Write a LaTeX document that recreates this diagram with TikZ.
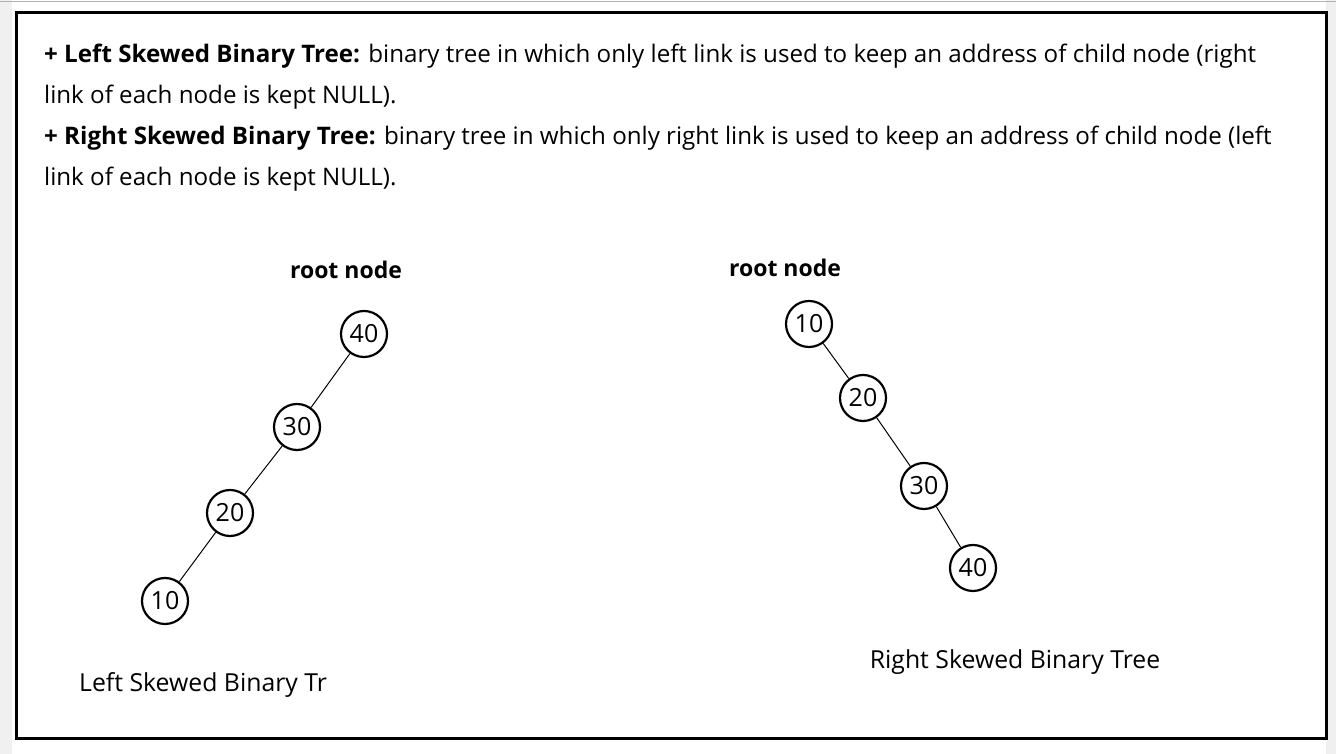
\documentclass[tikz,border=0pt]{standalone}
\usepackage{fontspec}
\setmainfont{Open Sans}
\begin{document}
\begin{tikzpicture}[x=1pt,y=1pt,
  txt/.style={anchor=base west,inner sep=0pt,font=\fontsize{24.15}{28}\selectfont},
  lbl/.style={inner sep=0pt,font=\fontsize{23}{28}\selectfont\bfseries},
  captxt/.style={inner sep=0pt,font=\fontsize{24.8}{28}\selectfont},
  tn/.style={circle,draw,line width=2.2pt,minimum size=46pt,inner sep=0pt,font=\fontsize{25}{28}\selectfont},
  ed/.style={line width=1pt}]
\useasboundingbox (0,0) rectangle (1336,754);
\fill[white] (0,0) rectangle (1336,754);
\fill[gray!12] (0,0) rectangle (12,754);
\fill[gray!12] (1326,0) rectangle (1336,754);
\draw[gray!60,line width=1pt] (0,752.5) -- (1336,752.5);
\draw[line width=3pt] (16,15) rectangle (1326,741);
% description text
\node[txt] (t1) at (44,691) {\textbf{+ Left Skewed Binary Tree:} binary tree in which only left link is used to keep an address of child node (right};
\node[txt] (t2) at (44,650) {link of each node is kept NULL).};
\node[txt] (t3) at (44,609) {\textbf{+ Right Skewed Binary Tree:} binary tree in which only right link is used to keep an address of child node (left};
\node[txt] (t4) at (44,568) {link of each node is kept NULL).};
% left tree
\node[lbl] (rl) at (346,484) {root node};
\node[tn] (l40) at (364,420) {40};
\node[tn] (l30) at (297,327) {30};
\node[tn] (l20) at (230,241) {20};
\node[tn] (l10) at (165,153) {10};
\draw[ed] (l40) -- (l30);
\draw[ed] (l30) -- (l20);
\draw[ed] (l20) -- (l10);
\node[captxt,anchor=west] (cl) at (79,69) {Left Skewed Binary Tr};
% right tree
\node[lbl] (rr) at (785,486) {root node};
\node[tn] (r10) at (809,430) {10};
\node[tn] (r20) at (863,356) {20};
\node[tn] (r30) at (924,268) {30};
\node[tn] (r40) at (973,186) {40};
\draw[ed] (r10) -- (r20);
\draw[ed] (r20) -- (r30);
\draw[ed] (r30) -- (r40);
\node[captxt] (cr) at (1015,92) {Right Skewed Binary Tree};
\end{tikzpicture}
\end{document}
